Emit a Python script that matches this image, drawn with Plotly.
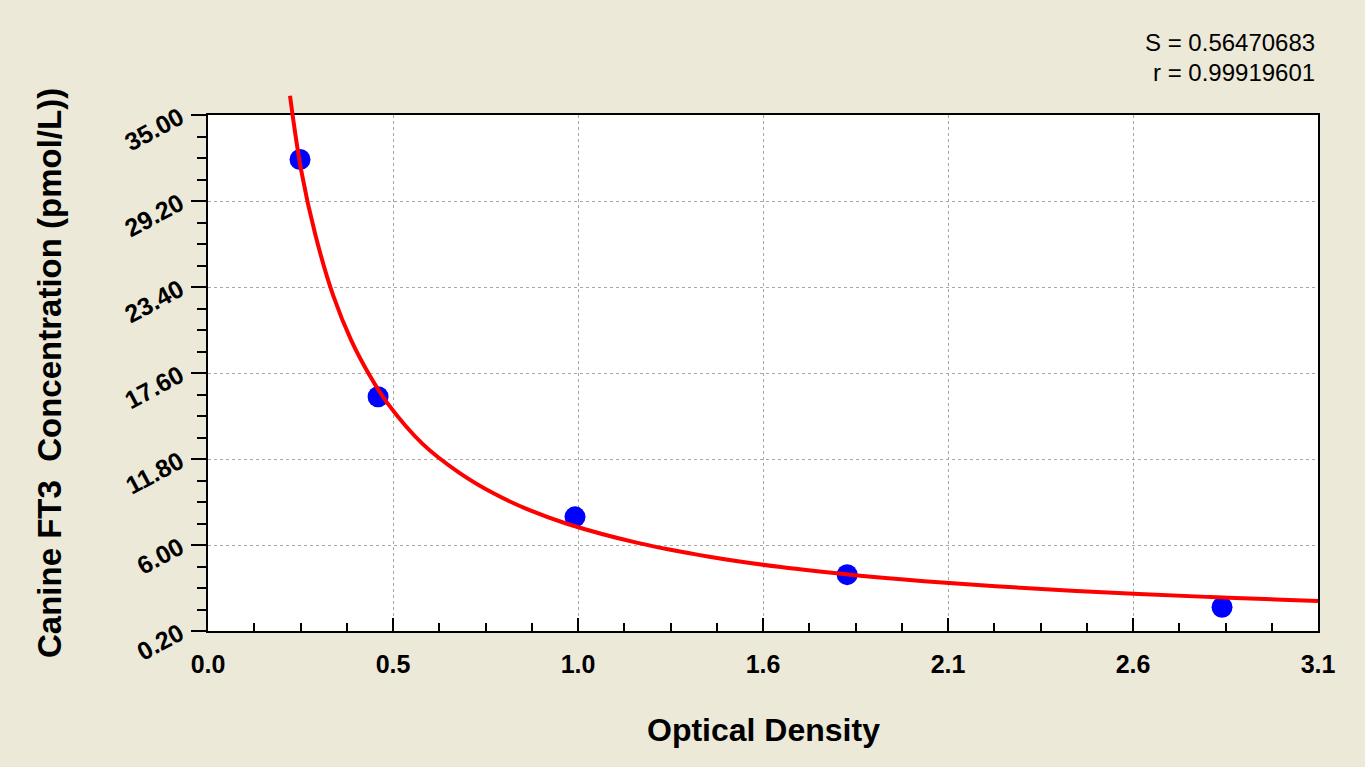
import numpy as np
import plotly.graph_objects as go

# ---- data ----
std_od = [0.257, 0.475, 1.025, 1.785, 2.832]
std_conc = [32.0, 16.0, 7.9, 4.0, 1.8]

curve_od = [0.229, 0.26, 0.30, 0.35, 0.40, 0.45, 0.50, 0.60, 0.70, 0.80, 0.90,
            1.0, 1.2, 1.4, 1.6, 1.8, 2.0, 2.2, 2.4, 2.6, 2.8, 3.0, 3.1]
curve_conc = [36.3, 31.3, 26.9, 22.8, 19.8, 17.5, 15.6, 12.8, 10.9, 9.45, 8.33,
              7.45, 6.14, 5.21, 4.51, 3.98, 3.56, 3.22, 2.93, 2.69, 2.49, 2.31, 2.23]

x_tick_labels = ["0.0", "0.5", "1.0", "1.6", "2.1", "2.6", "3.1"]
y_tick_labels = ["0.20", "6.00", "11.80", "17.60", "23.40", "29.20", "35.00"]
x_min, x_max = 0.0, 3.1
y_min, y_max = 0.2, 35.0
stat_lines = ["S = 0.56470683", "r = 0.99919601"]
x_title = "Optical Density"
y_title = "Canine FT3\u00a0 Concentration (pmol/L))"

# ---- layout geometry ----
W, H = 1365, 767
L, R, T, B = 208, 47, 85, 136
plot_top = 115
paper_h = H - T - B
d = (H - B - plot_top) / paper_h  # main y domain top

x_ticks = np.linspace(x_min, x_max, len(x_tick_labels))
y_ticks = np.linspace(y_min, y_max, len(y_tick_labels))
y2_top = y_min + (y_max - y_min) / d

BG = "#ECE9D8"
FONT = "Liberation Sans, Arial, sans-serif"

fig = go.Figure()
fig.add_trace(go.Scatter(
    x=std_od, y=std_conc, mode="markers",
    marker=dict(color="#0000FF", size=21, line=dict(width=0)),
    cliponaxis=False, showlegend=False, xaxis="x", yaxis="y"))
fig.add_trace(go.Scatter(
    x=curve_od, y=curve_conc, mode="lines",
    line=dict(color="#FF0000", width=4, shape="spline"),
    showlegend=False, xaxis="x2", yaxis="y2"))

grid = dict(gridcolor="#A8A8A0", griddash="3px,3px", gridwidth=1)

fig.update_layout(
    width=W, height=H,
    margin=dict(l=L, r=R, t=T, b=B, pad=0),
    paper_bgcolor=BG, plot_bgcolor="rgba(0,0,0,0)",
    font=dict(family=FONT, color="black"),
    xaxis=dict(domain=[0, 1], anchor="y", range=[x_min, x_max],
               tickmode="array", tickvals=x_ticks, ticktext=x_tick_labels,
               ticks="inside", ticklen=13, tickwidth=2, tickcolor="black",
               showline=True, linewidth=2, linecolor="black", mirror=True,
               showgrid=True, **grid, zeroline=False,
               tickfont=dict(size=25, weight="bold", family=FONT),
               ticklabelstandoff=10,
               minor=dict(tickmode="linear", tick0=x_min, dtick=(x_max - x_min) / 24,
                          ticks="inside", ticklen=8, tickwidth=2, tickcolor="black",
                          showgrid=False)),
    yaxis=dict(domain=[0, d], anchor="x", range=[y_min, y_max],
               tickmode="array", tickvals=y_ticks, ticktext=y_tick_labels,
               ticks="outside", ticklen=15, tickwidth=2, tickcolor="black",
               showline=True, linewidth=2, linecolor="black", mirror=True,
               showgrid=True, **grid, zeroline=False,
               tickangle=-28, ticklabelstandoff=6,
               tickfont=dict(size=25, weight="bold", family=FONT),
               minor=dict(tickmode="linear", tick0=y_min, dtick=(y_max - y_min) / 24,
                          ticks="outside", ticklen=9, tickwidth=2, tickcolor="black",
                          showgrid=False)),
    xaxis2=dict(domain=[0, 1], anchor="y2", range=[x_min, x_max], visible=False),
    yaxis2=dict(domain=[0, 1], anchor="x2", range=[y_min, y2_top], visible=False),
    shapes=[dict(type="rect", xref="x domain", yref="y domain",
                 x0=0, x1=1, y0=0, y1=1, fillcolor="white",
                 line=dict(width=0), layer="below")],
)

def py(pix):
    return (H - B - pix) / paper_h

def px(pix):
    return (pix - L) / (W - L - R)

ann = [
    dict(text=x_title, x=0.5, y=py(730), xref="paper", yref="paper",
         showarrow=False, xanchor="center", yanchor="middle",
         font=dict(size=32, weight="bold", family=FONT)),
    dict(text=y_title, x=px(49), y=py(373), xref="paper", yref="paper",
         showarrow=False, xanchor="center", yanchor="middle", textangle=-90,
         font=dict(size=33, weight="bold", family=FONT)),
]
for i, s in enumerate(stat_lines):
    ann.append(dict(text=s, x=px(1317), y=py(42 + 30 * i), xref="paper", yref="paper",
                    showarrow=False, xanchor="right", yanchor="middle",
                    font=dict(size=24, family=FONT)))
fig.update_layout(annotations=ann)

fig.write_html("out.html", config={"displayModeBar": False},
               post_script="document.body.style.margin='0px';")
